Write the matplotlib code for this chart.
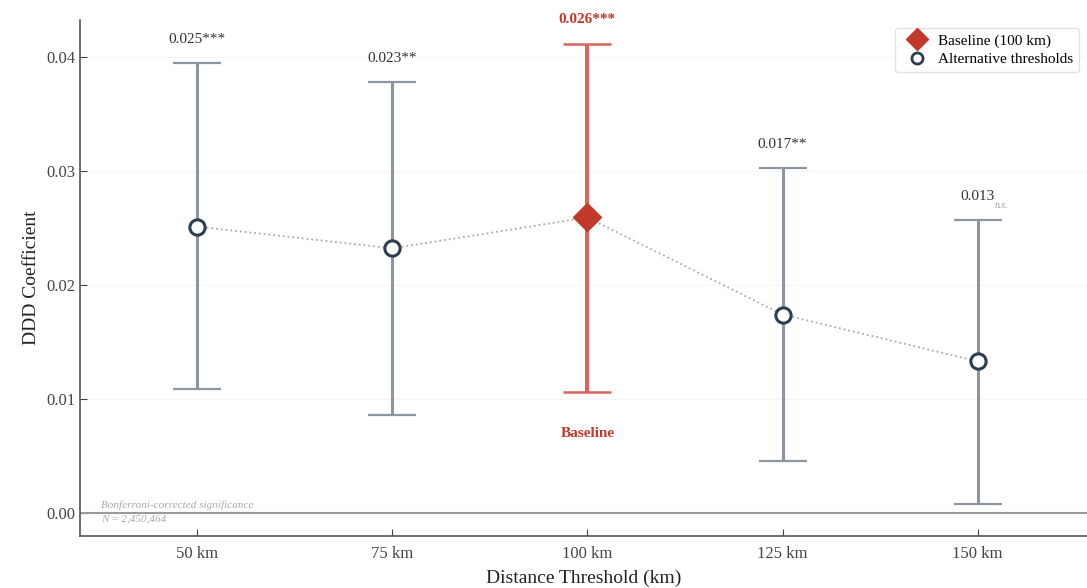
import numpy as np
import matplotlib
matplotlib.use("Agg")
import matplotlib.pyplot as plt
from matplotlib.lines import Line2D

thresholds = ["50 km", "75 km", "100 km", "125 km", "150 km"]
coef = [0.0251, 0.0232, 0.0259, 0.0174, 0.0133]
ci_low = [0.0109, 0.0086, 0.0106, 0.0046, 0.0008]
ci_high = [0.0394, 0.0378, 0.0411, 0.0302, 0.0257]
labels = ["0.025***", "0.023**", "0.026***", "0.017**", "0.013"]
baseline_idx = 2

plt.rcParams["font.family"] = ["Liberation Serif", "DejaVu Serif"]

fig = plt.figure(figsize=(10.87, 5.88), dpi=100)
ax = fig.add_axes([0.0736, 0.0884, 0.9264, 0.8776])

x = np.arange(len(thresholds))
gray = "#8c96a2"
navy = "#2c3e50"
red = "#c0392b"
light_red = "#d9625a"

ax.axhline(0, color="#9a9a9a", lw=1.5, zorder=1)
ax.plot(x, coef, ls=":", color="#aaaaaa", lw=1.3, zorder=2)

for i in x:
    lo, hi = coef[i] - ci_low[i], ci_high[i] - coef[i]
    if i == baseline_idx:
        ax.errorbar(i, coef[i], yerr=[[lo], [hi]], fmt="none", ecolor=light_red,
                    elinewidth=2.8, capsize=17, capthick=1.8, zorder=3)
        ax.plot(i, coef[i], marker="D", ms=14, color=red, mec=red, zorder=5)
        ax.text(i, ci_high[i] + 0.0016, labels[i], ha="center", va="bottom",
                fontsize=11, fontweight="bold", color=red)
        ax.text(i, ci_low[i] - 0.0042, "Baseline", ha="center", va="bottom",
                fontsize=11, fontweight="bold", color=red)
    else:
        ax.errorbar(i, coef[i], yerr=[[lo], [hi]], fmt="none", ecolor=gray,
                    elinewidth=2.2, capsize=17, capthick=1.6, zorder=3)
        ax.plot(i, coef[i], marker="o", ms=11, mfc="white", mec=navy, mew=2.2, zorder=5)
        ax.text(i, ci_high[i] + 0.0015, labels[i], ha="center", va="bottom",
                fontsize=11, color="#333333")

# n.s. tag next to the non-significant estimate
ax.text(4.085, ci_high[4] + 0.0009, "n.s.", ha="left", va="bottom",
        fontsize=7, style="italic", color="#a0a0a0")

ax.text(-0.49, 0.0003, "Bonferroni-corrected significance", fontsize=8,
        style="italic", color="#aaaaaa", va="bottom")
ax.text(-0.49, -0.0001, "N = 2,450,464", fontsize=8,
        style="italic", color="#aaaaaa", va="top")

ax.set_xlim(-0.6, 4.56)
ax.set_ylim(-0.002, 0.0432)
ax.set_xticks(x)
ax.set_xticklabels(thresholds)
ax.set_yticks([0.0, 0.01, 0.02, 0.03, 0.04])
ax.set_yticklabels(["0.00", "0.01", "0.02", "0.03", "0.04"])
ax.tick_params(direction="in", labelsize=12, colors="#444444", length=5)
ax.tick_params(axis="x", pad=7)
ax.yaxis.grid(True, color="#f5f5f5", lw=0.8)
ax.set_axisbelow(True)
for s in ["top", "right"]:
    ax.spines[s].set_visible(False)
for s in ["left", "bottom"]:
    ax.spines[s].set_color("#555555")
    ax.spines[s].set_linewidth(1.2)

ax.set_ylabel("DDD Coefficient", fontsize=14, color="#222222")
ax.set_xlabel("Distance Threshold (km)", fontsize=14, color="#222222", labelpad=6)

handles = [
    Line2D([0], [0], marker="D", ls="", ms=11, color=red, label="Baseline (100 km)"),
    Line2D([0], [0], marker="o", ls="", ms=8, mfc="white", mec=navy, mew=2, label="Alternative thresholds"),
]
ax.legend(handles=handles, loc="upper right", fontsize=11, frameon=True,
          edgecolor="#dddddd", handletextpad=0.4, borderpad=0.4, labelspacing=0.3,
          bbox_to_anchor=(1.0, 1.0))

fig.savefig("out.png", dpi=100)
